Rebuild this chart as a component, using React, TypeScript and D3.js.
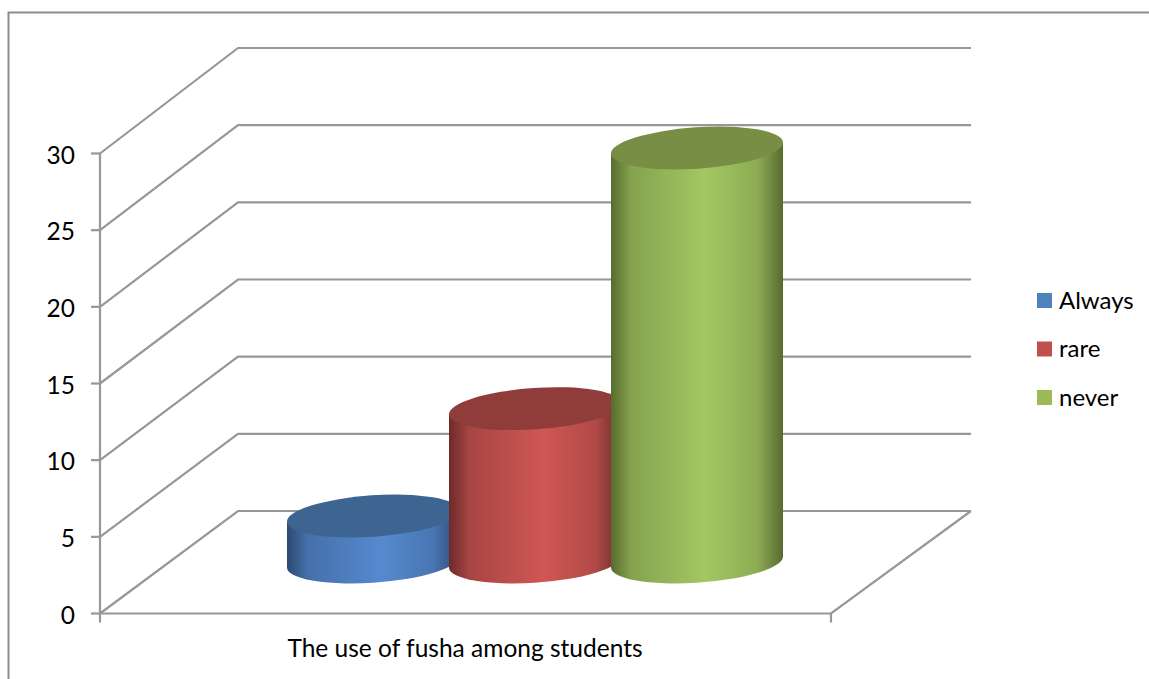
import React from "react";
import * as d3 from "d3";

// Survey answers plotted as one cluster of 3-D cylinders.
const seriesNames = ["Always", "rare", "never"];
const seriesValues = [3, 10, 27];
const categoryLabel = "The use of fusha among students";
const axisTicks = [0, 5, 10, 15, 20, 25, 30];

const topColors = ["#3e6592", "#903c3a", "#778e44"];
const lightColors = ["#5689cf", "#cf5754", "#a3c862"];
const darkColors = ["#2c4a70", "#6c2b29", "#586b30"];
const legendColors = ["#4f81bd", "#c0504d", "#9bbb59"];

const W = 1149;
const H = 679;
const FONT = "Lato, Carlito, sans-serif";
const LINE = "#979797";

// Front plane of the plot box and the back wall offset behind it.
const yFront = d3.scaleLinear().domain([0, 30]).range([613.5, 153.5]);
const yBack = d3.scaleLinear().domain([0, 30]).range([511, 48]);
const frontLeft = 100;
const frontRight = 831;
const backLeft = 238;
const backRight = 971;

// Neighbouring cylinders overlap: each one is wider than the step between them.
const columnCentre = d3.scalePoint<string>().domain(seriesNames).range([373, 697]);
const columnHalfWidth = 86;

const baseCentreY = 562;
const TILT = 3.9;
const FLATTEN = 0.24;

function ellipseOf(cx: number, xExtent: number) {
  const rad = (TILT * Math.PI) / 180;
  const s2 = Math.sin(rad) ** 2;
  const c2 = Math.cos(rad) ** 2;
  const a = xExtent / Math.sqrt(c2 + FLATTEN * FLATTEN * s2);
  const b = a * FLATTEN;
  const shift = ((a * a - b * b) * Math.sin(rad) * Math.cos(rad)) / xExtent;
  return { cx, a, b, xExtent, shift };
}

function Cylinder({ name, value, index }: { name: string; value: number; index: number }) {
  const e = ellipseOf(columnCentre(name) as number, columnHalfWidth);
  const height = yFront(0) - yFront(value);
  const topY = baseCentreY - height;
  const bodyPath =
    `M${e.cx - e.xExtent},${topY + e.shift}` +
    `L${e.cx - e.xExtent},${baseCentreY + e.shift}` +
    `A${e.a},${e.b} ${-TILT} 0 0 ${e.cx + e.xExtent},${baseCentreY - e.shift}` +
    `L${e.cx + e.xExtent},${topY - e.shift}Z`;
  return (
    <g>
      <path d={bodyPath} fill={`url(#body-${index})`} />
      <ellipse
        cx={e.cx}
        cy={topY}
        rx={e.a}
        ry={e.b}
        transform={`rotate(${-TILT} ${e.cx} ${topY})`}
        fill={topColors[index]}
      />
    </g>
  );
}

export default function App() {
  return (
    <svg
      width={W}
      height={H}
      viewBox={`0 0 ${W} ${H}`}
      style={{ position: "fixed", left: 0, top: 0, background: "#fff", display: "block" }}
      fontFamily={FONT}
    >
      <defs>
        {seriesNames.map((name, i) => (
          <linearGradient key={name} id={`body-${i}`} x1="0" x2="1" y1="0" y2="0">
            <stop offset="0" stopColor={darkColors[i]} />
            <stop offset="0.12" stopColor={d3.interpolateRgb(darkColors[i], lightColors[i])(0.6)} />
            <stop offset="0.55" stopColor={lightColors[i]} />
            <stop offset="0.85" stopColor={d3.interpolateRgb(darkColors[i], lightColors[i])(0.7)} />
            <stop offset="1" stopColor={darkColors[i]} />
          </linearGradient>
        ))}
      </defs>

      {/* outer chart frame, open to the right and bottom of the page */}
      <path d={`M${W},12.5H8.5V${H}`} fill="none" stroke="#8c8c8c" strokeWidth={2} />

      {/* gridlines folding from the side wall onto the back wall */}
      {axisTicks.map((t) => (
        <path
          key={`grid-${t}`}
          d={`M${frontLeft},${yFront(t)}L${backLeft},${yBack(t)}H${backRight}`}
          fill="none"
          stroke={LINE}
          strokeWidth={2.2}
        />
      ))}

      {/* floor edges */}
      <path
        d={`M${frontLeft},${yFront(0)}H${frontRight}L${backRight},${yBack(0)}`}
        fill="none"
        stroke={LINE}
        strokeWidth={2.2}
      />

      {/* value axis */}
      <line x1={frontLeft} x2={frontLeft} y1={yFront(30)} y2={yFront(0) + 9} stroke={LINE} strokeWidth={2.2} />
      <line x1={frontRight} x2={frontRight} y1={yFront(0)} y2={yFront(0) + 9} stroke={LINE} strokeWidth={2.2} />
      {axisTicks.map((t) => (
        <g key={`tick-${t}`}>
          <line x1={frontLeft - 9} x2={frontLeft} y1={yFront(t)} y2={yFront(t)} stroke={LINE} strokeWidth={2.2} />
          <text
            x={75}
            y={yFront(t) + 1.5}
            dy="0.36em"
            textAnchor="end"
            fontSize={24.5}
            fill="#000"
          >
            {t}
          </text>
        </g>
      ))}

      {seriesNames.map((name, i) => (
        <Cylinder key={name} name={name} value={seriesValues[i]} index={i} />
      ))}

      <text x={465} y={648} dy="0.36em" textAnchor="middle" fontSize={24.5} fill="#000">
        {categoryLabel}
      </text>

      {/* legend */}
      {seriesNames.map((name, i) => {
        const y = 300.5 + i * 48.5;
        return (
          <g key={`legend-${name}`}>
            <rect x={1037} y={y - 7.5} width={15} height={15} fill={legendColors[i]} />
            <text x={1059} y={y - 0.5} dy="0.36em" fontSize={24} fill="#000">
              {name}
            </text>
          </g>
        );
      })}
    </svg>
  );
}
